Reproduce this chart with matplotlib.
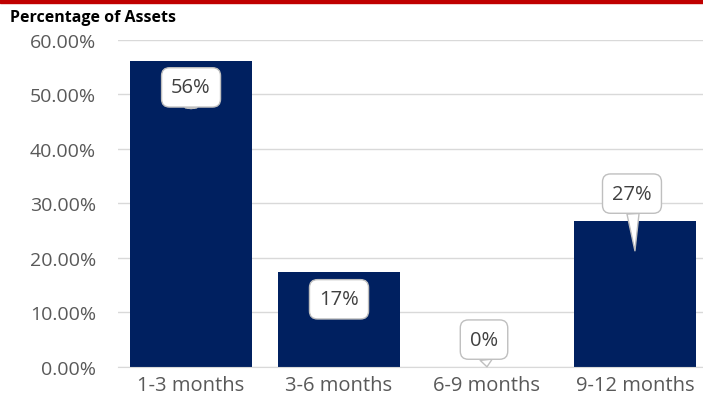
import matplotlib.pyplot as plt
from matplotlib.ticker import PercentFormatter

categories = ['1-3 months', '3-6 months', '6-9 months', '9-12 months']
values = [0.561, 0.174, 0.0, 0.268]
labels = ['56%', '17%', '0%', '27%']
# where each callout box sits and where its pointer ends (data units)
label_y = [0.513, 0.124, 0.050, 0.318]
tip_y = [0.474, 0.090, 0.0, 0.213]
label_dx = [0.0, 0.0, -0.02, -0.02]

plt.rcParams['font.family'] = ['Open Sans', 'DejaVu Sans']

fig = plt.figure(figsize=(7.03, 4.06), dpi=100)
ax = fig.add_axes([0.168, 0.094, 0.832, 0.805])

x = range(len(categories))
ax.bar(x, values, width=0.83, color='#002060', zorder=2)

for i, (lab, ly, ty, dx) in enumerate(zip(labels, label_y, tip_y, label_dx)):
    ax.annotate(lab, xy=(i, ty), xytext=(i + dx, ly), ha='center', va='center',
                fontsize=14.5, color='#404040', zorder=5,
                bbox=dict(boxstyle='round,pad=0.48,rounding_size=0.4', fc='white', ec='#bfbfbf', lw=1),
                arrowprops=dict(arrowstyle='wedge,tail_width=0.6', fc='white', ec='#bfbfbf', lw=1,
                                shrinkA=0, shrinkB=0))

ax.set_xlim(-0.493, 3.46)
ax.set_ylim(0, 0.6)
ax.set_yticks([0, 0.1, 0.2, 0.3, 0.4, 0.5, 0.6])
ax.yaxis.set_major_formatter(PercentFormatter(1.0, decimals=2))
ax.set_xticks(list(x))
ax.set_xticklabels(categories)
ax.tick_params(axis='y', length=0, labelsize=14, labelcolor='#595959', pad=16)
ax.tick_params(axis='x', length=0, labelsize=14.5, labelcolor='#595959', pad=6)
ax.grid(axis='y', color='#d9d9d9', lw=1, zorder=0)
for s in ['top', 'right', 'left']:
    ax.spines[s].set_visible(False)
ax.spines['bottom'].set_color('#d9d9d9')

# red rule along the top and the heading
fig.add_artist(plt.Rectangle((0, 0.99), 1, 0.01, transform=fig.transFigure, color='#c00000'))
fig.text(0.014, 0.955, 'Percentage of Assets', fontsize=11.5, fontweight='bold', color='black', va='center')

fig.savefig('out.png', dpi=100)
